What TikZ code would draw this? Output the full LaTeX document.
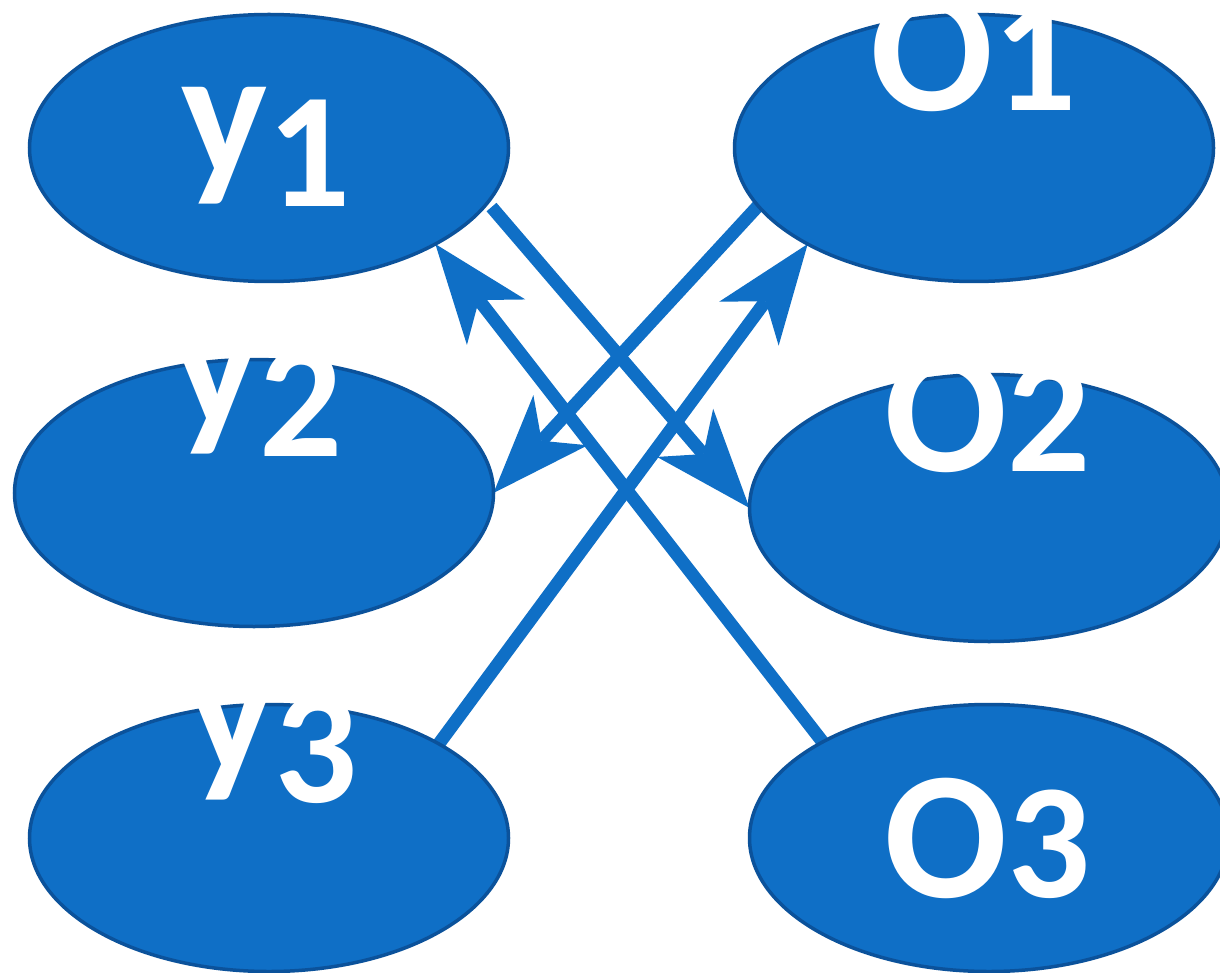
\documentclass[tikz,border=0pt]{standalone}
\usepackage{fontspec}
\setmainfont{Carlito}
\usetikzlibrary{shapes.geometric,arrows.meta,backgrounds}
\definecolor{nodeblue}{RGB}{15,111,198}
\definecolor{edgeblue}{RGB}{11,82,155}
\newcommand\dig[1]{{\fontsize{164}{164}\selectfont #1}}
\newcommand\ldig[1]{\raisebox{-31pt}{\dig{#1}}}
\begin{document}
\begin{tikzpicture}[x=1pt,y=-1pt,
  blob/.style={ellipse, draw=edgeblue, line width=3.5pt, fill=nodeblue,
    minimum width=479pt, minimum height=267pt, inner sep=0pt, outer sep=0pt},
  lbl/.style={text=white, font=\bfseries\fontsize{182}{182}\selectfont,
    inner sep=0pt, anchor=base},
  link/.style={draw=nodeblue, line width=13pt,
    -{Stealth[length=99pt,width=74pt,inset=28pt,line width=0pt]}}
]
\useasboundingbox (0,0) rectangle (1220,973);
\node[blob] (y1) at (269,148) {};
\node[blob] (O1) at (974,148) {};
\node[blob] (y2) at (254,493) {};
\node[blob] (O2) at (989,508) {};
\node[blob] (y3) at (269,838) {};
\node[blob] (O3) at (989,838) {};
\node[lbl] (ty1) at (266,176) {y\ldig{1}};
\node[lbl] (ty2) at (258,425) {y\ldig{2}};
\node[lbl] (ty3) at (273,771) {y\ldig{3}};
\node[lbl] (to1) at (974,111) {O\dig{1}};
\node[lbl] (to2) at (988,471) {O\dig{2}};
\node[lbl] (to3) at (988,897) {O\dig{3}};
\begin{scope}[on background layer]
  \fill[white] (0,0) rectangle (1220,973);
  \draw[link] (O3.150) -- (y1.330);
  \draw[link, shorten <=6pt] (y1.346) -- (O2.180);
  \draw[link] (O1.195) -- (y2.0);
  \draw[link] (y3.29) -- (O1.210);
\end{scope}
\end{tikzpicture}
\end{document}
